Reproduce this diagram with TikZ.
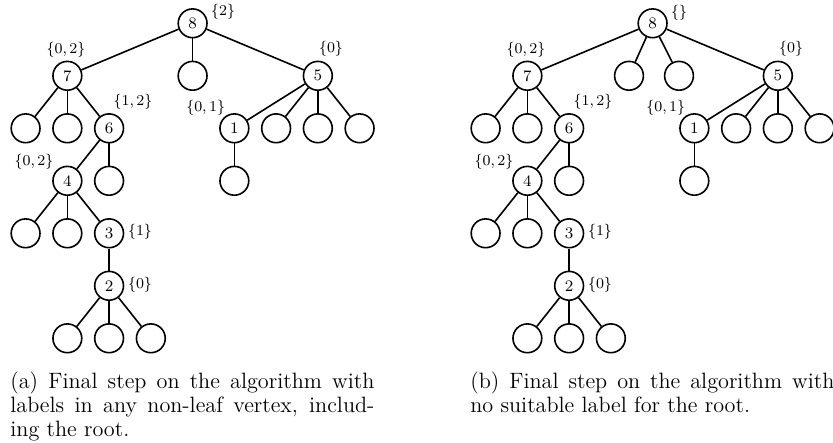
\documentclass[tikz,border=0pt]{standalone}
\usepackage{fontspec}
\tikzset{
  vtx/.style={circle, draw, line width=0.8pt, minimum size=14.4pt, inner sep=0pt, font=\fontsize{8}{9}\selectfont},
  lbl/.style={inner sep=0pt, font=\fontsize{7.5}{9}\selectfont},
  edge/.style={line width=0.8pt},
  captext/.style={inner sep=0pt, anchor=base west, font=\fontsize{11.1}{12}\selectfont},
}
% common part of both trees, #1 = name prefix
\newcommand{\commontree}[1]{%
  \node[vtx] (#1r) at (192.6,23.3) {8};
  \node[vtx] (#1n7) at (67.35,75.8) {7};
  \node[vtx] (#1n5) at (317.85,75.8) {5};
  \node[vtx] (#1a) at (25.6,128.3) {};
  \node[vtx] (#1b) at (67.35,128.3) {};
  \node[vtx] (#1n6) at (109.1,128.3) {6};
  \node[vtx] (#1n1) at (234.35,128.3) {1};
  \node[vtx] (#1c) at (276.1,128.3) {};
  \node[vtx] (#1d) at (317.85,128.3) {};
  \node[vtx] (#1e) at (359.6,128.3) {};
  \node[vtx] (#1n4) at (67.35,180.8) {4};
  \node[vtx] (#1f) at (109.1,180.8) {};
  \node[vtx] (#1g) at (234.35,180.8) {};
  \node[vtx] (#1h) at (25.6,233.3) {};
  \node[vtx] (#1i) at (67.35,233.3) {};
  \node[vtx] (#1n3) at (109.1,233.3) {3};
  \node[vtx] (#1n2) at (109.1,285.8) {2};
  \node[vtx] (#1j) at (67.35,338.3) {};
  \node[vtx] (#1k) at (109.1,338.3) {};
  \node[vtx] (#1l) at (150.85,338.3) {};
  \draw[edge] (#1r) -- (#1n7);
  \draw[edge] (#1r) -- (#1n5);
  \draw[edge] (#1n7) -- (#1a);
  \draw[edge] (#1n7) -- (#1b);
  \draw[edge] (#1n7) -- (#1n6);
  \draw[edge] (#1n5) -- (#1n1);
  \draw[edge] (#1n5) -- (#1c);
  \draw[edge] (#1n5) -- (#1d);
  \draw[edge] (#1n5) -- (#1e);
  \draw[edge] (#1n6) -- (#1n4);
  \draw[edge] (#1n6) -- (#1f);
  \draw[edge] (#1n1) -- (#1g);
  \draw[edge] (#1n4) -- (#1h);
  \draw[edge] (#1n4) -- (#1i);
  \draw[edge] (#1n4) -- (#1n3);
  \draw[edge] (#1n3) -- (#1n2);
  \draw[edge] (#1n2) -- (#1j);
  \draw[edge] (#1n2) -- (#1k);
  \draw[edge] (#1n2) -- (#1l);
  \node[lbl] (#1L7) at (66,50) {\{0,\,2\}};
  \node[lbl] (#1L5) at (331,48.3) {\{0\}};
  \node[lbl] (#1L6) at (133,102) {\{1,\,2\}};
  \node[lbl] (#1L1) at (205.7,107.5) {\{0,\,1\}};
  \node[lbl] (#1L4) at (34,162) {\{0,\,2\}};
  \node[lbl] (#1L3) at (140,232) {\{1\}};
  \node[lbl] (#1L2) at (140,284.5) {\{0\}};
}
\begin{document}
\begin{tikzpicture}[x=0.5pt, y=-0.5pt]
  \useasboundingbox (0,0) rectangle (833,443);
  \clip (0,0) rectangle (833,443);
  % (a)
  \commontree{A}
  \node[vtx] (Am) at (192.6,75.8) {};
  \draw[edge] (Ar) -- (Am);
  \node[lbl, anchor=west] (ALr) at (210.7,11.5) {\{2\}};
  \node[captext] (Acap) at (10,388) {\parbox[t]{182pt}{(a) Final step on the algorithm with\linebreak labels in any non-leaf vertex, includ-\linebreak ing the root.}};
  % (b)
  \begin{scope}[xshift=230pt]
    \commontree{B}
    \node[vtx] (Bm) at (169,75.8) {};
    \node[vtx] (Bn) at (219,75.8) {};
    \draw[edge] (Br) -- (Bm);
    \draw[edge] (Br) -- (Bn);
    \node[lbl, anchor=west] (BLr) at (210.7,12.5) {\{\}};
    \node[captext] (Bcap) at (10,388) {\parbox[t]{182pt}{(b) Final step on the algorithm with\linebreak no suitable label for the root.}};
  \end{scope}
\end{tikzpicture}
\end{document}
